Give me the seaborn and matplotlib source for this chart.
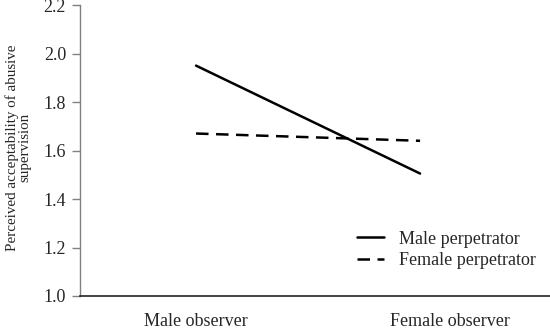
import pandas as pd
import numpy as np
import seaborn as sns
import matplotlib.pyplot as plt
import matplotlib.transforms as mtrans

## data
observers = ['Male observer', 'Female observer']
perpetrators = ['Male perpetrator', 'Female perpetrator']
male_perp = [1.95, 1.505]
female_perp = [1.67, 1.64]

df = pd.DataFrame({
    'Observer': observers * 2,
    'Perpetrator': [perpetrators[0]] * 2 + [perpetrators[1]] * 2,
    'Acceptability': male_perp + female_perp,
})
df['x'] = df['Observer'].map({o: i for i, o in enumerate(observers)})

## plot
sns.set_style('white')
plt.rcParams['font.family'] = ['Liberation Serif', 'DejaVu Serif']

fig = plt.figure(figsize=(5.5, 3.32), dpi=100)
ax = fig.add_axes([80 / 550, 36 / 332, 470 / 550, 291 / 332])

sns.lineplot(data=df, x='x', y='Acceptability', style='Perpetrator',
             style_order=perpetrators,
             dashes={perpetrators[0]: '', perpetrators[1]: (5, 3)},
             color='black', linewidth=1.8, ax=ax)

ax.set_xlim(-0.518, 1.58)
ax.set_ylim(1.0, 2.2)
ax.set_yticks(np.arange(1.0, 2.21, 0.2))
ax.set_yticklabels([f'{v:.1f}' for v in np.arange(1.0, 2.21, 0.2)], fontsize=13)
ax.set_xticks([0, 1])
ax.set_xticklabels(observers, fontsize=13)
ax.tick_params(axis='x', length=0, pad=12)
ax.tick_params(axis='y', length=6, width=1, color='#808080', direction='out', pad=4, left=True)
# second label sits a bit right of the line end
lab = ax.get_xticklabels()[1]
lab.set_transform(lab.get_transform() + mtrans.ScaledTranslation(30 / 100, 0, fig.dpi_scale_trans))

for s in ['top', 'right']:
    ax.spines[s].set_visible(False)
ax.spines['left'].set_color('#808080')
ax.spines['left'].set_linewidth(1)
ax.spines['bottom'].set_color('#222222')
ax.spines['bottom'].set_linewidth(1.2)

ax.set_xlabel('')
ax.set_ylabel('Perceived acceptability of abusive\nsupervision', fontsize=10.8,
              linespacing=1.0)
ax.yaxis.set_label_coords(-0.103, 0.51)

leg = ax.legend(frameon=False, fontsize=13, handlelength=1.5, handletextpad=0.8,
                labelspacing=0.25, loc='upper left', bbox_to_anchor=(0.555, 0.28))
for h in leg.get_lines():
    h.set_linewidth(1.8)

fig.savefig('out.png', dpi=100)
